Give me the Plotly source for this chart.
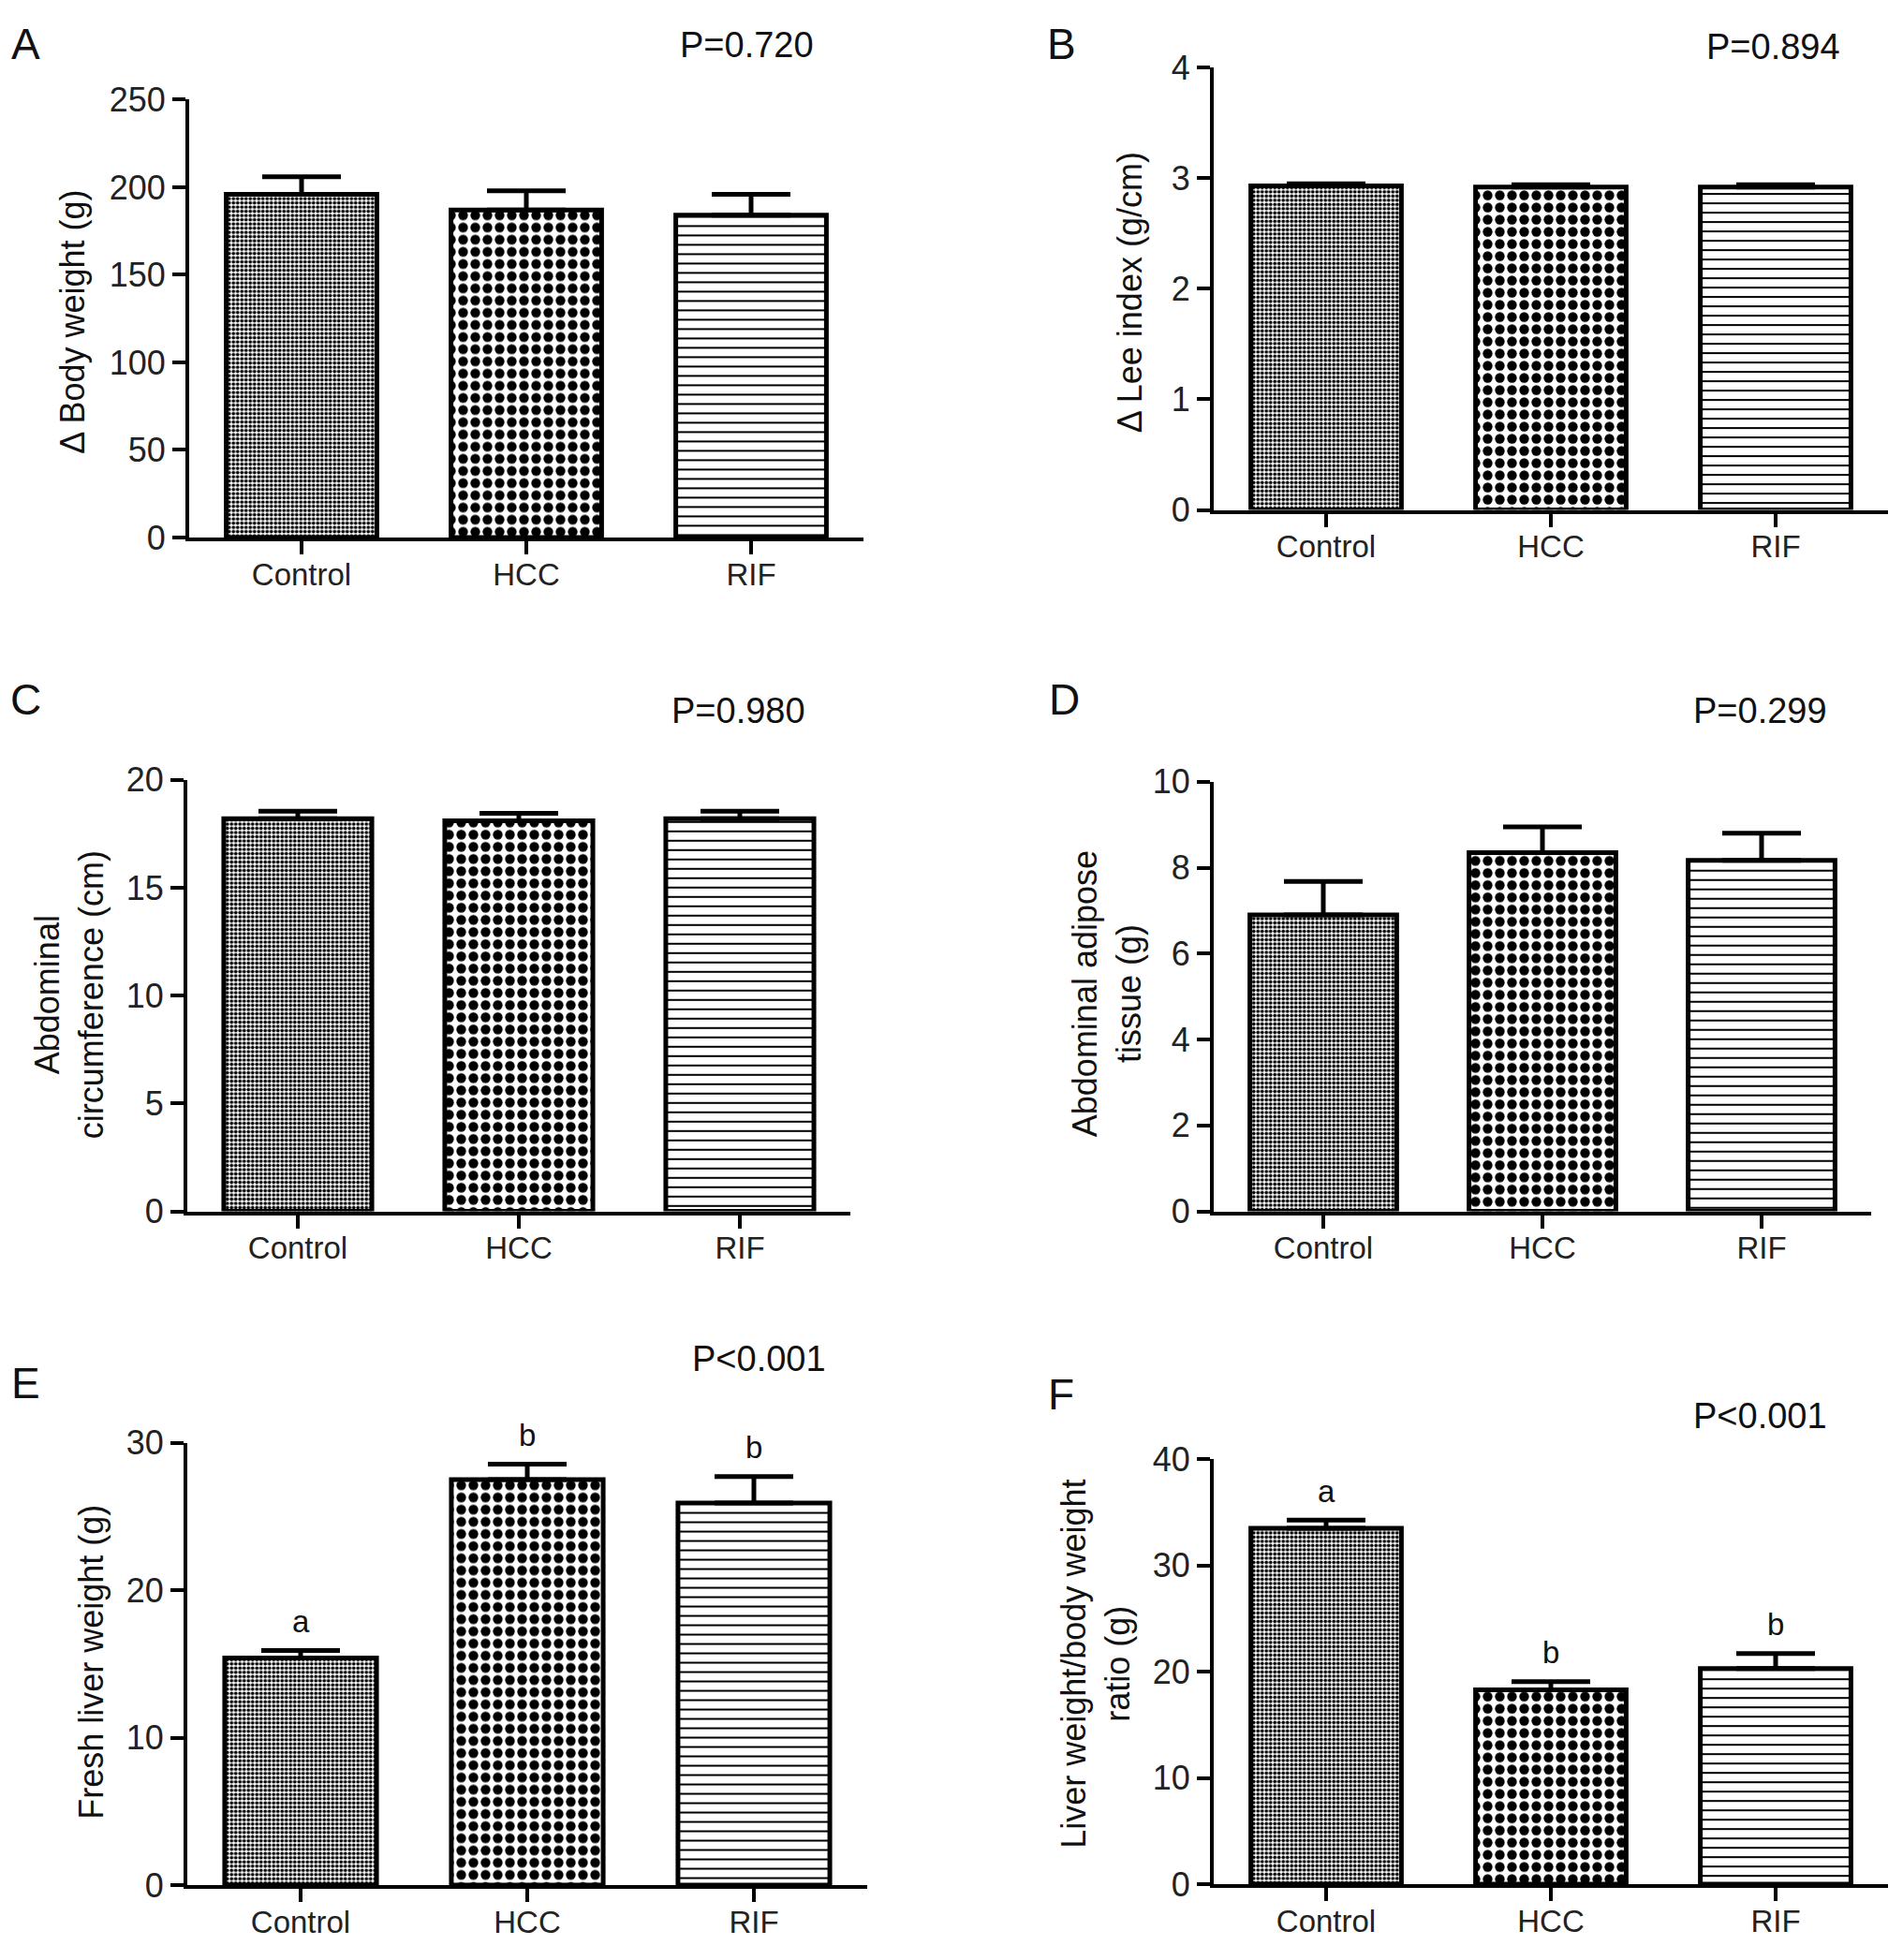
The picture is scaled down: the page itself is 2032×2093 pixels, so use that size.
import plotly.graph_objects as go

# ── Data ───────────────────────────────────────────────────────────────────────
GROUPS = ["Control", "HCC", "RIF"]

BODY_WEIGHT = [196, 187, 184]
BODY_WEIGHT_ERR = [10, 11, 12]

LEE_INDEX = [2.93, 2.92, 2.92]
LEE_INDEX_ERR = [0.02, 0.02, 0.02]

ABD_CIRC = [18.2, 18.1, 18.2]
ABD_CIRC_ERR = [0.35, 0.35, 0.35]

ABD_FAT = [6.9, 8.35, 8.17]
ABD_FAT_ERR = [0.78, 0.6, 0.63]

LIVER_WT = [15.4, 27.5, 25.9]
LIVER_WT_ERR = [0.5, 1.05, 1.8]
LIVER_WT_LETTERS = ["a", "b", "b"]

LIVER_RATIO = [33.5, 18.3, 20.3]
LIVER_RATIO_ERR = [0.76, 0.76, 1.4]
LIVER_RATIO_LETTERS = ["a", "b", "b"]

PANEL_LABELS = ["A", "B", "C", "D", "E", "F"]
P_VALUES = ["P=0.720", "P=0.894", "P=0.980", "P=0.299", "P<0.001", "P<0.001"]
Y_TITLES = [
    "\u0394 Body weight (g)",
    "\u0394 Lee index (g/cm)",
    "Abdominal<br>circumference (cm)",
    "Abdominal adipose<br>tissue (g)",
    "Fresh liver weight (g)",
    "Liver weight/body weight<br>ratio (g)",
]
Y_TICKS = [
    [0, 50, 100, 150, 200, 250],
    [0, 1, 2, 3, 4],
    [0, 5, 10, 15, 20],
    [0, 2, 4, 6, 8, 10],
    [0, 10, 20, 30],
    [0, 10, 20, 30, 40],
]

SERIES = [
    (BODY_WEIGHT, BODY_WEIGHT_ERR, None),
    (LEE_INDEX, LEE_INDEX_ERR, None),
    (ABD_CIRC, ABD_CIRC_ERR, None),
    (ABD_FAT, ABD_FAT_ERR, None),
    (LIVER_WT, LIVER_WT_ERR, LIVER_WT_LETTERS),
    (LIVER_RATIO, LIVER_RATIO_ERR, LIVER_RATIO_LETTERS),
]

# ── Layout (screen pixels) ─────────────────────────────────────────────────────
W, H = 2016, 2077
PAD = 8          # default body margin of the page
FONT = "Liberation Sans, Arial, sans-serif"

# x0, x1, y_top, y_zero of each plot area
BOXES = [
    (202, 922, 88, 565),
    (1296, 2016, 53, 535),
    (200, 908, 829, 1299),
    (1296, 1998, 831, 1299),
    (200, 926, 1551, 2033),
    (1296, 2016, 1569, 2032),
]
LETTER_POS = [(27, 27), (1133, 27), (27, 741), (1136, 741), (27, 1486), (1133, 1498)]
PVAL_POS = [(797, 28), (1893, 30), (788, 754), (1879, 754), (810, 1460), (1879, 1522)]
YTITLE_POS = [(78, 330), (1206, 298), (74, 1063), (1182, 1062), (98, 1790), (1170, 1792)]


def fx(sx):
    return (sx - PAD) / W


def fy(sy):
    return 1 - (sy - PAD) / H


pattern = dict(
    shape=[".", ".", "-"],
    size=[4.5, 13, 10],
    solidity=[0.55, 0.5, 0.2],
    fgcolor="black",
    bgcolor="white",
    fillmode="replace",
)

fig = go.Figure()
annotations = []


def note(text, x, y, size, **kw):
    d = dict(text=text, x=x, y=y, xref="paper", yref="paper", showarrow=False,
             xanchor="center", yanchor="middle",
             font=dict(family=FONT, size=size, color="#111"))
    d.update(kw)
    annotations.append(d)


for i, (vals, err, letters) in enumerate(SERIES):
    n = i + 1
    xa = "x" if n == 1 else f"x{n}"
    ya = "y" if n == 1 else f"y{n}"
    fig.add_trace(go.Bar(
        x=GROUPS, y=vals,
        width=0.67,
        marker=dict(color="white", line=dict(color="black", width=5), pattern=pattern),
        error_y=dict(type="data", symmetric=False, array=err, arrayminus=[0] * len(err),
                     color="black", thickness=5, width=42),
        xaxis=xa, yaxis=ya,
        showlegend=False,
    ))

    x0, x1, yt, yz = BOXES[i]
    ticks = Y_TICKS[i]
    axis_common = dict(
        showline=True, linewidth=4, linecolor="black",
        ticks="outside", ticklen=14, tickwidth=4, tickcolor="black",
        showgrid=False, zeroline=False,
    )
    fig.update_layout({
        f"xaxis{'' if n == 1 else n}": dict(
            domain=[fx(x0), fx(x1)], anchor=ya, range=[-0.5, 2.5],
            tickfont=dict(family=FONT, size=33, color="#222"), **axis_common),
        f"yaxis{'' if n == 1 else n}": dict(
            domain=[fy(yz), fy(yt)], anchor=xa, range=[0, ticks[-1]],
            tickvals=ticks, tickfont=dict(family=FONT, size=36, color="#222"), **axis_common),
    })

    lx, ly = LETTER_POS[i]
    note(PANEL_LABELS[i], fx(lx), fy(ly), 46)
    px_, py_ = PVAL_POS[i]
    note(P_VALUES[i], fx(px_), fy(py_), 38)
    tx, ty = YTITLE_POS[i]
    note(Y_TITLES[i], fx(tx), fy(ty), 36, textangle=-90)

    if letters:
        for g, v, e, t in zip(GROUPS, vals, err, letters):
            annotations.append(dict(text=t, x=g, y=v + e, xref=xa, yref=ya, yshift=31,
                                    xanchor="center", yanchor="middle", showarrow=False,
                                    font=dict(family=FONT, size=33, color="#111")))

fig.update_layout(
    width=W, height=H,
    margin=dict(l=0, r=0, t=0, b=0),
    paper_bgcolor="white",
    plot_bgcolor="white",
    font=dict(family=FONT, color="#111"),
    annotations=annotations,
)

# pull category labels a little closer to the axis
try:
    fig.update_xaxes(ticklabelstandoff=-7)
except ValueError:
    pass

fig.write_html("out.html")
